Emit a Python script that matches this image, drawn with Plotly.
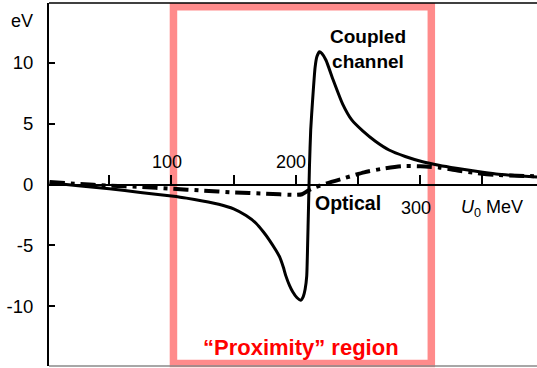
import plotly.graph_objects as go

# Energy shift vs. potential depth U0 (MeV); values in eV
u0_coupled = [2, 25, 50, 75, 100, 112, 125, 138, 150, 160, 168, 174, 179, 184, 187, 190,
              192, 195, 197.5, 201, 204, 206, 207.5, 208.8, 209.5, 210.2, 211, 212, 213.5,
              215.5, 217, 219, 221, 224.3, 230, 237.7, 245, 253.8, 264, 275, 288, 302,
              315, 329, 345, 361, 378, 394]
shift_coupled = [0.15, -0.1, -0.35, -0.65, -0.95, -1.12, -1.35, -1.62, -2.0, -2.55, -3.18,
                 -3.9, -4.6, -5.4, -5.95, -6.8, -7.5, -8.3, -8.8, -9.3, -9.5, -9.2, -8.6,
                 -7.5, -5.0, -2.0, 1.5, 4.5, 6.9, 9.6, 10.5, 10.9, 10.75, 10.2, 8.6, 6.6,
                 5.3, 4.4, 3.55, 2.83, 2.3, 1.87, 1.58, 1.33, 1.08, 0.86, 0.72, 0.62]

u0_optical = [2, 25, 50, 75, 100, 125, 150, 175, 200, 205, 210, 215, 225, 240, 255, 270,
              285, 300, 315, 330, 345, 360, 378, 394]
shift_optical = [0.2, 0.05, -0.1, -0.2, -0.35, -0.5, -0.65, -0.75, -0.85, -0.8, -0.5, -0.25,
                 0.1, 0.55, 1.0, 1.3, 1.5, 1.5, 1.4, 1.15, 0.95, 0.8, 0.72, 0.68]

x_ticks = [50, 100, 150, 200, 250, 300, 350]
x_tick_labels = {100: (96.5, 1.85), 200: (196, 1.85), 300: (296.7, -1.93)}
y_ticks = [-10, -5, 0, 5, 10]
y_tick_labels = ["-10", "-5", "0", "5", "10"]
proximity = (101.6, 309)

FONT = "Liberation Sans, Arial, Helvetica, sans-serif"

fig = go.Figure()

fig.add_trace(go.Scatter(
    x=u0_optical, y=shift_optical, mode="lines",
    line=dict(color="black", width=4, dash="15px,6px,4px,6px", shape="spline", smoothing=0.6),
    showlegend=False, hoverinfo="skip"))
fig.add_trace(go.Scatter(
    x=u0_coupled, y=shift_coupled, mode="lines",
    line=dict(color="black", width=3, shape="spline", smoothing=0.5),
    showlegend=False, hoverinfo="skip"))

# highlighted "proximity" window
fig.add_shape(type="rect", xref="x", yref="paper",
              x0=proximity[0], x1=proximity[1], y0=0.007, y1=0.99,
              line=dict(color="rgba(255,110,110,0.8)", width=7.5),
              fillcolor="rgba(0,0,0,0)", layer="below")

# frame lines
fig.add_shape(type="line", xref="paper", yref="paper", x0=0, x1=1, y0=1, y1=1,
              line=dict(color="black", width=1.5))
fig.add_shape(type="line", xref="paper", yref="paper", x0=0, x1=1, y0=0, y1=0,
              line=dict(color="#8a8a8a", width=1.5))

for val, (xp, yp) in x_tick_labels.items():
    fig.add_annotation(x=xp, y=yp, text=str(val), showarrow=False,
                       font=dict(family=FONT, size=18, color="black"),
                       xanchor="center", yanchor="middle")

fig.add_annotation(x=357.8, y=-1.93, text="<i>U</i><sub>0</sub> MeV", showarrow=False,
                   font=dict(family=FONT, size=18, color="black"),
                   xanchor="center", yanchor="middle")
fig.add_annotation(xref="paper", yref="paper", x=-0.055, y=0.95, text="eV",
                   showarrow=False, font=dict(family=FONT, size=18, color="black"),
                   xanchor="center", yanchor="middle")
fig.add_annotation(x=258, y=11.1, text="<b>Coupled<br>channel</b>", showarrow=False,
                   font=dict(family=FONT, size=19, color="black"),
                   xanchor="center", yanchor="middle")
fig.add_annotation(x=242.3, y=-1.52, text="<b>Optical</b>", showarrow=False,
                   font=dict(family=FONT, size=19.5, color="black"),
                   xanchor="center", yanchor="middle")
fig.add_annotation(x=204, y=-13.4, text="<b>\u201cProximity\u201d region</b>", showarrow=False,
                   font=dict(family=FONT, size=22, color="#ff0000"),
                   xanchor="center", yanchor="middle")

fig.update_layout(
    width=537, height=368,
    margin=dict(l=49, r=0, t=3, b=2),
    paper_bgcolor="white", plot_bgcolor="white",
    xaxis=dict(range=[1.5, 394], anchor="free", position=0.5,
               showline=True, linecolor="black", linewidth=1.5,
               ticks="inside", ticklen=9, tickwidth=1.5, tickcolor="black",
               tickvals=x_ticks, showticklabels=False,
               showgrid=False, zeroline=False),
    yaxis=dict(range=[-14.9, 14.9],
               showline=True, linecolor="black", linewidth=2,
               ticks="inside", ticklen=6, tickwidth=1.5, tickcolor="black",
               tickvals=y_ticks, ticktext=y_tick_labels,
               tickfont=dict(family=FONT, size=18.5, color="black"),
               ticklabelstandoff=10,
               showgrid=False, zeroline=False),
)

fig.write_html("out.html")
